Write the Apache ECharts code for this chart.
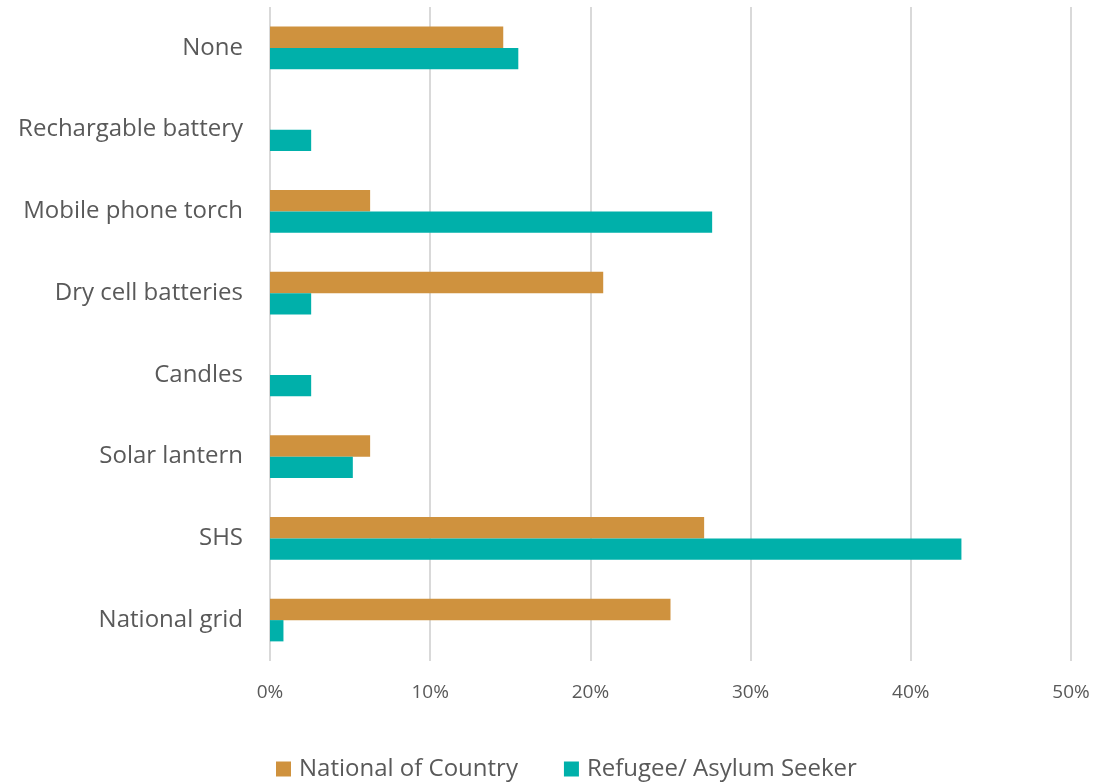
<!DOCTYPE html>
<html>
<head>
<meta charset="utf-8">
<script src="https://cdn.jsdelivr.net/npm/echarts@6/dist/echarts.min.js"></script>
<style>
  html, body { margin: 0; padding: 0; background: #fff; }
  #chart { width: 1096px; height: 783px; }
</style>
</head>
<body>
<div id="chart"></div>
<script>
// Lighting source by household type (share of respondents)
const categories = ['None', 'Rechargable battery', 'Mobile phone torch', 'Dry cell batteries', 'Candles', 'Solar lantern', 'SHS', 'National grid'];
const nationalValues = [14.56, 0, 6.25, 20.8, 0, 6.25, 27.1, 25.0];
const refugeeValues = [15.5, 2.57, 27.6, 2.57, 2.57, 5.17, 43.16, 0.84];
const seriesNames = ['National of Country', 'Refugee/ Asylum Seeker'];
const axisTicks = [0, 10, 20, 30, 40, 50];

const font = '"Open Sans", "Liberation Sans", sans-serif';
const chart = echarts.init(document.getElementById('chart'), null, { renderer: 'canvas' });

chart.setOption({
  animation: false,
  backgroundColor: '#ffffff',
  grid: { left: 270, right: 25, top: 7, bottom: 122, containLabel: false },
  legend: {
    top: 752,
    left: 271,
    itemWidth: 15,
    itemHeight: 15,
    itemGap: 46,
    icon: 'rect',
    textStyle: { fontFamily: font, fontSize: 24, color: '#595959', padding: [0, 0, 0, 3] },
    data: seriesNames
  },
  xAxis: {
    type: 'value',
    min: axisTicks[0],
    max: axisTicks[axisTicks.length - 1],
    interval: 10,
    axisLabel: {
      formatter: v => v + '%',
      fontFamily: font, fontSize: 19, color: '#595959', margin: 22
    },
    axisLine: { show: false },
    axisTick: { show: false },
    splitLine: { lineStyle: { color: '#d9d9d9', width: 2 } }
  },
  yAxis: {
    type: 'category',
    data: categories,
    inverse: true,
    axisLabel: { fontFamily: font, fontSize: 24, color: '#595959', margin: 27, padding: [0, 0, 3, 0] },
    axisLine: { show: false },
    axisTick: { show: false }
  },
  series: [
    {
      name: seriesNames[0],
      type: 'bar',
      data: nationalValues,
      barGap: '0%',
      barCategoryGap: '48%',
      itemStyle: { color: '#CF923E' }
    },
    {
      name: seriesNames[1],
      type: 'bar',
      data: refugeeValues,
      barGap: '0%',
      barCategoryGap: '48%',
      itemStyle: { color: '#00B0AA' }
    }
  ]
});
</script>
</body>
</html>
